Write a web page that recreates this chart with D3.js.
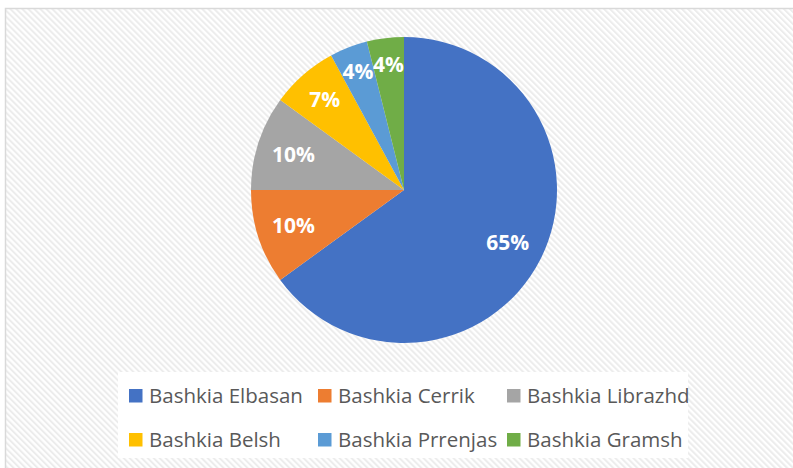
<!DOCTYPE html>
<html>
<head>
<meta charset="utf-8">
<script src="https://cdn.jsdelivr.net/npm/d3@7"></script>
<style>
  html, body { margin: 0; padding: 0; background: #ffffff; }
  svg { display: block; }
</style>
</head>
<body>
<svg id="chart" width="793" height="468"></svg>
<script>
const categories = ["Bashkia Elbasan", "Bashkia Cerrik", "Bashkia Librazhd", "Bashkia Belsh", "Bashkia Prrenjas", "Bashkia Gramsh"];
const values = [65, 10, 10, 7.1, 4, 3.9];
const colors = ["#4472C4", "#ED7D31", "#A5A5A5", "#FFC000", "#5B9BD5", "#70AD47"];

const svg = d3.select("#chart");
const defs = svg.append("defs");
const pat = defs.append("pattern")
  .attr("id", "hatch")
  .attr("patternUnits", "userSpaceOnUse")
  .attr("width", 4.24).attr("height", 4.24)
  .attr("patternTransform", "rotate(-45)");
pat.append("rect").attr("width", 4.24).attr("height", 4.24).attr("fill", "#ffffff");
pat.append("rect").attr("width", 2).attr("height", 4.24).attr("fill", "#ececec");

// chart area frame
svg.append("rect")
  .attr("x", 5.5).attr("y", 8.5)
  .attr("width", 800).attr("height", 480)
  .attr("fill", "url(#hatch)")
  .attr("stroke", "#d9d9d9").attr("stroke-width", 1.5);

// pie
const cx = 404, cy = 190, R = 153;
const total = d3.sum(values);
const pie = d3.pie().sort(null).value(d => d)(values);
const arc = d3.arc().innerRadius(0).outerRadius(R);
const g = svg.append("g").attr("transform", `translate(${cx},${cy})`);
g.selectAll("path.slice").data(pie).join("path")
  .attr("class", "slice")
  .attr("d", arc)
  .attr("fill", (d, i) => colors[i]);

g.selectAll("text.lbl").data(pie).join("text")
  .attr("class", "lbl")
  .attr("transform", d => {
    const frac = d.value / total;
    const k = Math.max(0.76, Math.min(0.83, 0.76 + (0.09 - frac) * 1.4));
    const a = (d.startAngle + d.endAngle) / 2;
    return `translate(${Math.sin(a) * R * k},${-Math.cos(a) * R * k})`;
  })
  .attr("text-anchor", "middle")
  .attr("dy", "0.36em")
  .attr("fill", "#ffffff")
  .style("font-family", "'Open Sans', sans-serif")
  .style("font-weight", "bold")
  .style("font-size", "21px")
  .text(d => Math.round(d.value / total * 100) + "%");

// legend
const lg = svg.append("g");
lg.append("rect").attr("x", 118).attr("y", 372).attr("width", 570).attr("height", 86).attr("fill", "#ffffff");
const colX = d3.scalePoint().domain([0, 1, 2]).range([129, 507]);
const rowY = d3.scalePoint().domain([0, 1]).range([403, 447]);
const items = lg.selectAll("g.item").data(categories).join("g")
  .attr("class", "item")
  .attr("transform", (d, i) => `translate(${colX(i % 3)},${rowY(Math.floor(i / 3))})`);
items.append("rect")
  .attr("x", 0).attr("y", -14).attr("width", 13.5).attr("height", 13.5)
  .attr("fill", (d, i) => colors[i]);
items.append("text")
  .attr("x", 20).attr("y", 0)
  .attr("fill", "#595959")
  .style("font-family", "'Open Sans', sans-serif")
  .style("font-size", "20.5px")
  .text(d => d);
</script>
</body>
</html>
